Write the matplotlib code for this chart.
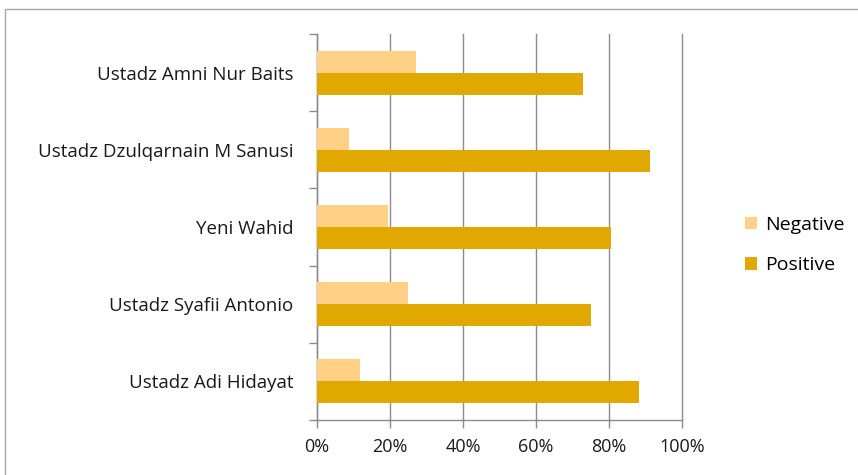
import numpy as np
import matplotlib
matplotlib.use('Agg')
import matplotlib.pyplot as plt
from matplotlib.patches import Rectangle

plt.rcParams['font.family'] = ['Open Sans', 'DejaVu Sans']

speakers = ['Ustadz Adi Hidayat', 'Ustadz Syafii Antonio', 'Yeni Wahid',
            'Ustadz Dzulqarnain M Sanusi', 'Ustadz Amni Nur Baits']
negative = [11.7, 25.0, 19.4, 8.8, 27.0]
positive = [88.3, 75.0, 80.6, 91.2, 73.0]
x_ticks = [0, 20, 40, 60, 80, 100]

neg_color = '#FFD086'
pos_color = '#E0A800'
grid_color = '#8C8C8C'

fig = plt.figure(figsize=(8.58, 4.75), dpi=100)
ax = fig.add_axes([317 / 858, 1 - 420 / 475, 365 / 858, 386 / 475])

y = np.arange(len(speakers))
h = 0.285
ax.barh(y + h / 2, negative, height=h, color=neg_color, label='Negative', zorder=3)
ax.barh(y - h / 2, positive, height=h, color=pos_color, label='Positive', zorder=3)

ax.set_xlim(0, 100)
ax.set_ylim(-0.5, len(speakers) - 0.5)
ax.set_xticks(x_ticks)
ax.set_xticklabels([f'{t}%' for t in x_ticks], fontsize=13, color='#1a1a1a')
ax.set_yticks(y)
ax.set_yticklabels(speakers, fontsize=13.5, color='#1a1a1a')
ax.set_yticks(np.arange(-0.5, len(speakers)), minor=True)
ax.tick_params(axis='y', which='major', length=0, pad=17)
ax.tick_params(axis='y', which='minor', length=6, color=grid_color, width=1)
ax.tick_params(axis='x', length=6, color=grid_color, width=1, pad=7)

ax.grid(axis='x', color=grid_color, linewidth=1, zorder=0)
ax.set_axisbelow(True)
for line in ax.get_xgridlines():
    line.set_clip_on(False)
for side in ['top', 'right']:
    ax.spines[side].set_visible(False)
for side in ['left', 'bottom']:
    ax.spines[side].set_color(grid_color)
    ax.spines[side].set_linewidth(1)

handles, labels = ax.get_legend_handles_labels()
fig.legend(handles, labels, loc='center left', bbox_to_anchor=(727 / 858, 1 - 245 / 475),
           frameon=False, fontsize=14, handlelength=0.65, handleheight=0.65,
           handletextpad=0.4, labelspacing=1.15)

# chart frame
fig.patches.append(Rectangle((5 / 858, -0.02), 1.0, 1 - 8.5 / 475 + 0.02,
                             transform=fig.transFigure, fill=False,
                             edgecolor='#A6A6A6', linewidth=1))

fig.savefig('out.png', dpi=100)
